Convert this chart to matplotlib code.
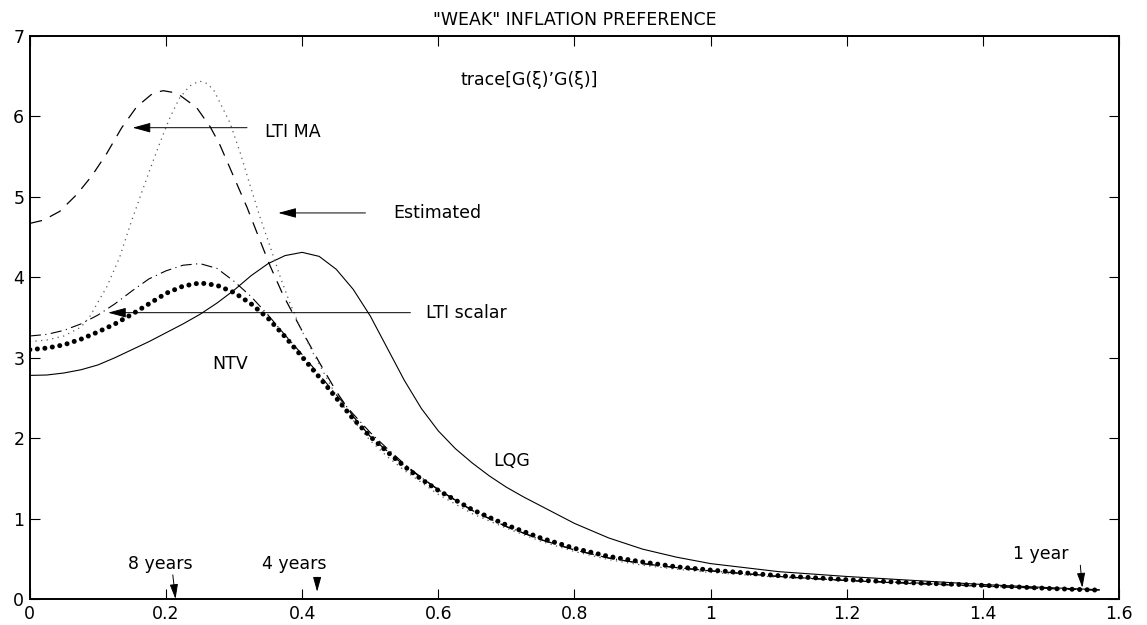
import matplotlib.pyplot as plt
import numpy as np

plt.rcParams['font.family'] = ['DejaVu Sans']

# values, frequency runs 0 .. pi/2
x_lqg = [0, 0.025, 0.05, 0.075, 0.1, 0.125, 0.15, 0.175, 0.2, 0.225, 0.25, 0.275,
         0.3, 0.325, 0.35, 0.375, 0.4, 0.425, 0.45, 0.475, 0.5, 0.525, 0.55, 0.575,
         0.6, 0.625, 0.65, 0.675, 0.7, 0.725, 0.75, 0.8, 0.85, 0.9, 0.95, 1.0,
         1.1, 1.2, 1.3, 1.4, 1.5, 1.571]
y_lqg = [2.78, 2.785, 2.81, 2.85, 2.91, 3.0, 3.10, 3.20, 3.31, 3.42, 3.54, 3.68,
         3.84, 4.02, 4.17, 4.27, 4.31, 4.26, 4.10, 3.85, 3.52, 3.12, 2.72, 2.37,
         2.09, 1.87, 1.69, 1.53, 1.39, 1.27, 1.16, 0.94, 0.76, 0.62, 0.52, 0.44,
         0.34, 0.28, 0.23, 0.18, 0.14, 0.115]

x_ntv = [0, 0.025, 0.05, 0.075, 0.1, 0.125, 0.15, 0.175, 0.2, 0.225, 0.25, 0.275,
         0.3, 0.325, 0.35, 0.375, 0.4, 0.425, 0.45, 0.475, 0.5, 0.525, 0.55, 0.575,
         0.6, 0.65, 0.7, 0.75, 0.8, 0.85, 0.9, 0.95, 1.0, 1.1, 1.2, 1.3, 1.4, 1.5, 1.571]
y_ntv = [3.10, 3.12, 3.16, 3.23, 3.32, 3.42, 3.54, 3.67, 3.80, 3.89, 3.93, 3.90,
         3.81, 3.67, 3.49, 3.26, 3.01, 2.76, 2.50, 2.24, 2.02, 1.83, 1.65, 1.49,
         1.35, 1.11, 0.92, 0.76, 0.63, 0.53, 0.46, 0.40, 0.36, 0.29, 0.24, 0.20,
         0.17, 0.13, 0.11]

x_sca = [0, 0.025, 0.05, 0.075, 0.1, 0.125, 0.15, 0.175, 0.2, 0.225, 0.25, 0.275,
         0.3, 0.325, 0.35, 0.375, 0.4, 0.425, 0.45, 0.475, 0.5, 0.525, 0.55, 0.575,
         0.6, 0.65, 0.7, 0.75, 0.8, 0.85, 0.9, 0.95, 1.0, 1.1, 1.2, 1.3, 1.4, 1.5, 1.571]
y_sca = [3.27, 3.29, 3.34, 3.42, 3.53, 3.67, 3.83, 3.98, 4.08, 4.15, 4.17, 4.11,
         3.95, 3.76, 3.53, 3.28, 3.04, 2.79, 2.54, 2.30, 2.07, 1.87, 1.68, 1.51,
         1.36, 1.10, 0.90, 0.74, 0.61, 0.51, 0.44, 0.39, 0.35, 0.28, 0.23, 0.20,
         0.16, 0.13, 0.11]

x_est = [0, 0.025, 0.05, 0.075, 0.088, 0.1, 0.113, 0.132, 0.147, 0.162, 0.176, 0.191,
         0.206, 0.22, 0.235, 0.249, 0.26, 0.27, 0.294, 0.309, 0.324, 0.338, 0.353,
         0.368, 0.382, 0.397, 0.416, 0.45, 0.475, 0.5, 0.525, 0.55, 0.6, 0.65, 0.7,
         0.75, 0.8, 0.85, 0.9, 0.95, 1.0, 1.1, 1.2, 1.3, 1.4, 1.5, 1.571]
y_est = [3.20, 3.22, 3.27, 3.38, 3.51, 3.69, 3.88, 4.25, 4.64, 5.0, 5.33, 5.67,
         5.99, 6.23, 6.38, 6.44, 6.41, 6.33, 5.92, 5.55, 5.13, 4.75, 4.38,
         4.0, 3.68, 3.38, 3.06, 2.53, 2.22, 1.97, 1.77, 1.60, 1.30, 1.06, 0.88,
         0.72, 0.59, 0.49, 0.42, 0.37, 0.33, 0.27, 0.23, 0.19, 0.16, 0.13, 0.11]

x_ma = [0, 0.02, 0.044, 0.069, 0.091, 0.113, 0.135, 0.157, 0.181, 0.196, 0.216,
        0.245, 0.265, 0.279, 0.299, 0.319, 0.338, 0.353, 0.372, 0.387, 0.402, 0.426,
        0.451, 0.475, 0.5, 0.55, 0.6, 0.65, 0.7, 0.75, 0.8, 0.85, 0.9, 0.95, 1.0,
        1.1, 1.2, 1.3, 1.4, 1.5, 1.571]
y_ma = [4.67, 4.71, 4.82, 5.03, 5.26, 5.54, 5.86, 6.12, 6.29, 6.32, 6.29,
        6.11, 5.87, 5.65, 5.26, 4.87, 4.46, 4.14, 3.78, 3.54, 3.30, 2.93,
        2.57, 2.27, 2.02, 1.66, 1.36, 1.10, 0.90, 0.74, 0.61, 0.51, 0.44, 0.39, 0.35,
        0.28, 0.23, 0.19, 0.16, 0.13, 0.11]

xticks = [0, 0.2, 0.4, 0.6, 0.8, 1.0, 1.2, 1.4, 1.6]
xticklabels = ['0', '0.2', '0.4', '0.6', '0.8', '1', '1.2', '1.4', '1.6']

fig = plt.figure(figsize=(11.47, 6.25), dpi=100)
ax = fig.add_axes([0.026, 0.0416, 0.9497, 0.9008])

ax.plot(x_lqg, y_lqg, color='k', lw=0.8)
ax.plot(x_ma, y_ma, color='k', lw=0.9, linestyle=(0, (10, 7)))
ax.plot(x_est, y_est, color='0.35', lw=0.9, linestyle=(0, (1, 3.5)))
ax.plot(x_sca, y_sca, color='k', lw=0.8, linestyle=(0, (10, 4, 1, 4)))
ax.plot(x_ntv, y_ntv, color='k', lw=3.6, linestyle=(0, (0.01, 1.5)),
        dash_capstyle='round')

ax.set_xlim(0, 1.6)
ax.set_ylim(0, 7)
ax.set_xticks(xticks)
ax.set_xticklabels(xticklabels)
ax.set_yticks(range(8))
ax.tick_params(direction='in', top=True, right=True, length=7, width=0.8,
               labelsize=12.5, pad=4)
for s in ax.spines.values():
    s.set_linewidth(1.4)

ax.set_title('"WEAK" INFLATION PREFERENCE', fontsize=12.5, pad=8)

fs = 12.5
ax.text(0.733, 6.45, 'trace[G(\u03be)\u2019G(\u03be)]', fontsize=fs, ha='center', va='center')

ap = dict(arrowstyle='-|>,head_length=1.1,head_width=0.3', color='k', lw=0.7,
          shrinkA=0, shrinkB=0)
ax.annotate('', xy=(0.151, 5.86), xytext=(0.319, 5.86), arrowprops=ap)
ax.text(0.346, 5.81, 'LTI MA', fontsize=fs, ha='left', va='center')

ax.annotate('', xy=(0.365, 4.80), xytext=(0.493, 4.80), arrowprops=ap)
ax.text(0.534, 4.80, 'Estimated', fontsize=fs, ha='left', va='center')

ax.annotate('', xy=(0.115, 3.56), xytext=(0.559, 3.56), arrowprops=ap)
ax.text(0.582, 3.55, 'LTI scalar', fontsize=fs, ha='left', va='center')

ax.text(0.294, 2.92, 'NTV', fontsize=fs, ha='center', va='center')
ax.text(0.681, 1.72, 'LQG', fontsize=fs, ha='left', va='center')

ap2 = dict(arrowstyle='-|>,head_length=0.9,head_width=0.25', color='k', lw=0.7,
           shrinkA=0, shrinkB=0)
ax.text(0.191, 0.43, '8 years', fontsize=fs, ha='center', va='center')
ax.annotate('', xy=(0.214, 0.0), xytext=(0.210, 0.30), arrowprops=ap2)
ax.text(0.388, 0.43, '4 years', fontsize=fs, ha='center', va='center')
ax.annotate('', xy=(0.422, 0.09), xytext=(0.422, 0.27), arrowprops=ap2)
ax.text(1.485, 0.56, '1 year', fontsize=fs, ha='center', va='center')
ax.annotate('', xy=(1.546, 0.14), xytext=(1.543, 0.42), arrowprops=ap2)

fig.savefig('out.png', dpi=100)
